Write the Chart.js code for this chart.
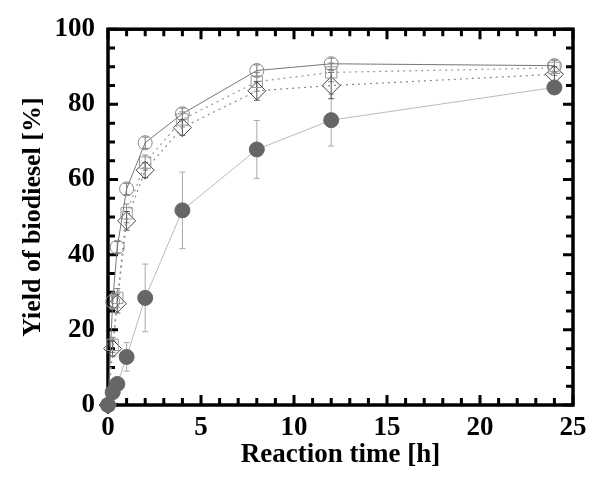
<!DOCTYPE html>
<html>
<head>
<meta charset="utf-8">
<script src="https://cdn.jsdelivr.net/npm/chart.js@4/dist/chart.umd.min.js"></script>
<style>
  html, body { margin: 0; padding: 0; background: #fff; }
  #wrap { width: 600px; height: 478px; }
</style>
</head>
<body>
<div id="wrap"><canvas id="yieldChart"></canvas></div>
<script>
// reaction times [h]
const times = [0, 0.25, 0.5, 1, 2, 4, 8, 12, 24];

// yields [%] per catalyst run
const yieldCircle = [0, 27.5, 42, 57.5, 69.8, 77.5, 89, 90.8, 90.3];
const yieldSquare = [0, 16, 28.5, 51, 64.5, 76, 86, 88.5, 89.7];
const yieldDiamond = [0, 15, 27, 49, 62.5, 73.8, 83.6, 85, 88];
const yieldFilled = [0, 3.4, 5.6, 12.8, 28.5, 51.8, 68, 75.8, 84.5];

// +/- error bars
const errCircle = [0, 1.5, 1.5, 1.5, 1.5, 1.5, 1.5, 1.5, 1.5];
const errSquare = [0, 2, 2.5, 2.5, 2, 2, 2.5, 2.5, 2];
const errDiamond = [0, 2, 2.5, 2.5, 2, 2, 2.5, 3.5, 2];
const errFilled = [0, 1, 1, 3.8, 9, 10.2, 7.7, 6.9, 1];

const xTicks = [0, 5, 10, 15, 20, 25];
const yTicks = [0, 20, 40, 60, 80, 100];

const toPts = (ys) => times.map((t, i) => ({ x: t, y: ys[i] }));

// error bars, drawn under the markers
const errorBars = {
  id: "errorBars",
  beforeDatasetsDraw(chart) {
    const ctx = chart.ctx;
    const xs = chart.scales.x, ys = chart.scales.y;
    chart.data.datasets.forEach((ds) => {
      if (!ds.err) return;
      ctx.save();
      ctx.strokeStyle = ds.errColor;
      ctx.lineWidth = 1;
      ds.data.forEach((p, i) => {
        const e = ds.err[i];
        if (!e) return;
        const px = xs.getPixelForValue(p.x);
        const top = ys.getPixelForValue(p.y + e);
        const bot = ys.getPixelForValue(p.y - e);
        ctx.beginPath();
        ctx.moveTo(px, top); ctx.lineTo(px, bot);
        ctx.moveTo(px - 3, top); ctx.lineTo(px + 3, top);
        ctx.moveTo(px - 3, bot); ctx.lineTo(px + 3, bot);
        ctx.stroke();
      });
      ctx.restore();
    });
  },
};

// box frame with inward ticks on all four sides
const frameTicks = {
  id: "frameTicks",
  beforeDatasetsDraw(chart) {
    const ctx = chart.ctx;
    const { left, right, top, bottom } = chart.chartArea;
    const xs = chart.scales.x, ys = chart.scales.y;
    ctx.save();
    ctx.strokeStyle = "#000";
    ctx.lineWidth = 3;
    for (let v = 0; v <= 25; v++) {
      const len = v % 5 === 0 ? 10 : 7;
      const px = xs.getPixelForValue(v);
      ctx.beginPath();
      ctx.moveTo(px, bottom); ctx.lineTo(px, bottom - len);
      ctx.moveTo(px, top); ctx.lineTo(px, top + len);
      ctx.stroke();
    }
    for (let v = 0; v <= 100; v += 5) {
      const len = v % 20 === 0 ? 10 : 7;
      const py = ys.getPixelForValue(v);
      ctx.beginPath();
      ctx.moveTo(left, py); ctx.lineTo(left + len, py);
      ctx.moveTo(right, py); ctx.lineTo(right - len, py);
      ctx.stroke();
    }
    ctx.lineWidth = 3.5;
    ctx.strokeRect(left, top, right - left, bottom - top);
    ctx.restore();
  },
};

const serif = '"Liberation Serif", "Times New Roman", serif';

new Chart(document.getElementById("yieldChart"), {
  type: "scatter",
  data: {
    datasets: [
      {
        data: toPts(yieldFilled),
        err: errFilled,
        errColor: "#aaa",
        showLine: true,
        borderColor: "#bbb",
        borderWidth: 1,
        pointStyle: "circle",
        pointRadius: 7.5,
        pointBackgroundColor: "#666",
        pointBorderColor: "#666",
        pointBorderWidth: 1,
      },
      {
        data: toPts(yieldCircle),
        err: errCircle,
        errColor: "#777",
        showLine: true,
        borderColor: "#777",
        borderWidth: 1,
        pointStyle: "circle",
        pointRadius: 7,
        pointBackgroundColor: "transparent",
        pointBorderColor: "#888",
        pointBorderWidth: 1,
      },
      {
        data: toPts(yieldSquare),
        err: errSquare,
        errColor: "#888",
        showLine: true,
        borderColor: "#999",
        borderWidth: 1.2,
        borderDash: [2, 4],
        pointStyle: "rect",
        pointRadius: 8,
        pointBackgroundColor: "transparent",
        pointBorderColor: "#999",
        pointBorderWidth: 1,
      },
      {
        data: toPts(yieldDiamond),
        err: errDiamond,
        errColor: "#555",
        showLine: true,
        borderColor: "#888",
        borderWidth: 1.2,
        borderDash: [2, 4],
        pointStyle: "rectRot",
        pointRadius: 9,
        pointBackgroundColor: "transparent",
        pointBorderColor: "#444",
        pointBorderWidth: 1,
      },
    ],
  },
  options: {
    responsive: true,
    maintainAspectRatio: false,
    animation: false,
    clip: false,
    layout: { padding: { left: 0, top: 18, right: 27, bottom: 0 } },
    elements: { line: { tension: 0 } },
    scales: {
      x: {
        type: "linear",
        min: 0,
        max: 25,
        afterFit: (s) => { s.height = 73; },
        afterBuildTicks: (s) => { s.ticks = xTicks.map((v) => ({ value: v })); },
        grid: { display: false, drawTicks: false },
        border: { display: false },
        ticks: { color: "#000", padding: 7, font: { family: serif, size: 27, weight: "bold" } },
        title: {
          display: true,
          text: "Reaction time [h]",
          color: "#000",
          padding: { top: 0, bottom: 7 },
          font: { family: serif, size: 27, weight: "bold" },
        },
      },
      y: {
        type: "linear",
        min: 0,
        max: 100,
        afterFit: (s) => { s.width = 108; },
        afterBuildTicks: (s) => { s.ticks = yTicks.map((v) => ({ value: v })); },
        grid: { display: false, drawTicks: false },
        border: { display: false },
        ticks: { color: "#000", padding: 13, font: { family: serif, size: 27, weight: "bold" } },
        title: {
          display: true,
          text: "Yield of biodiesel [%]",
          color: "#000",
          padding: { top: 18, bottom: 0 },
          font: { family: serif, size: 26, weight: "bold" },
        },
      },
    },
    plugins: {
      legend: { display: false },
      tooltip: { enabled: false },
    },
  },
  plugins: [frameTicks, errorBars],
});
</script>
</body>
</html>
